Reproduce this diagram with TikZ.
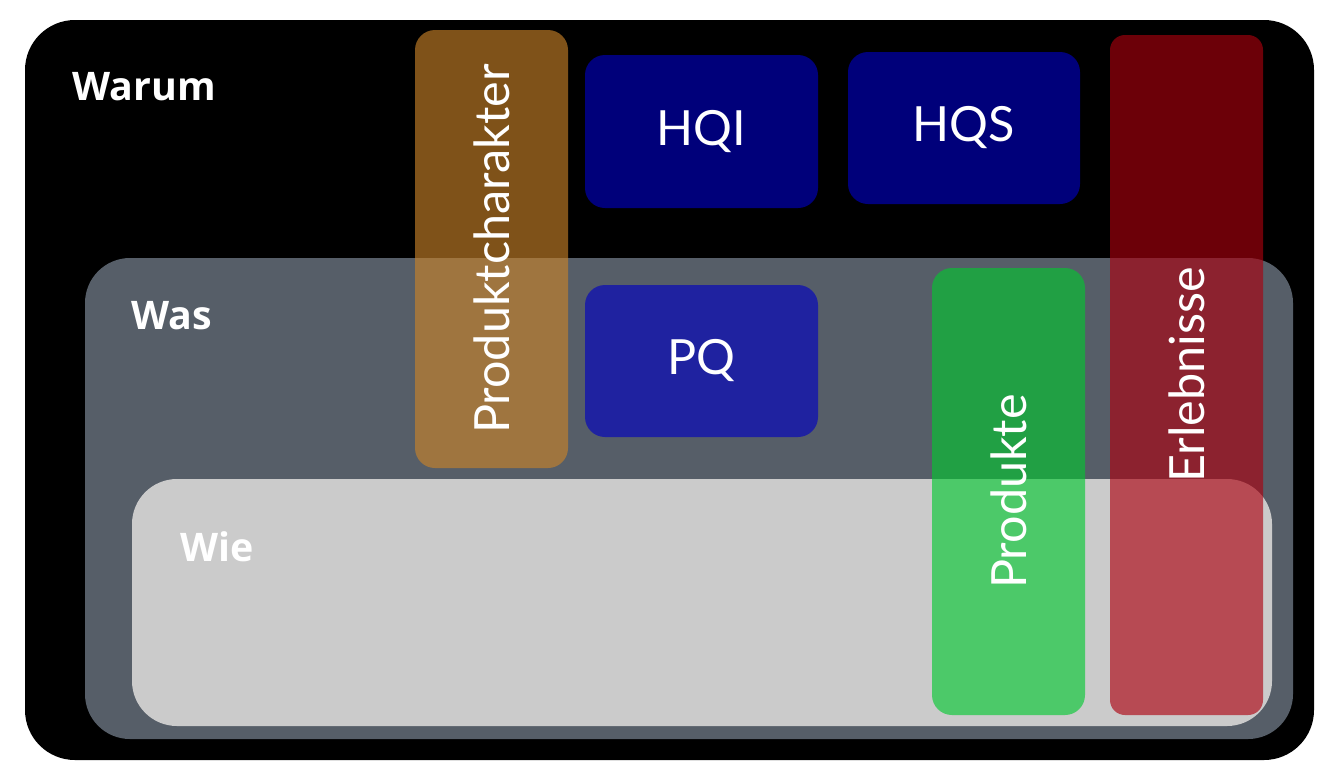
\documentclass[tikz,border=0pt]{standalone}
\usepackage{fontspec}
\setmainfont{Lato}
\newfontfamily\headfont{Open Sans}
\definecolor{wasgray}{RGB}{86,94,104}
\definecolor{wiegray}{RGB}{203,203,203}
\definecolor{charbrown}{RGB}{202,131,40}
\definecolor{hqblue}{RGB}{0,0,194}
\definecolor{prodgreen}{RGB}{3,200,48}
\definecolor{erlred}{RGB}{172,0,14}

\begin{document}
\begin{tikzpicture}[
  layer/.style={rounded corners=4.5mm, inner sep=0pt},
  head/.style={font=\headfont\bfseries\fontsize{11.2}{13}\selectfont, text=white},
  tag/.style={rounded corners=2mm, inner sep=0pt, fill opacity=0.63, text opacity=1,
    text=white, font=\fontsize{13.8}{15}\selectfont},
  upright/.style={tag, rotate=90},
]
\useasboundingbox[fill=white] (0,0) rectangle (13.34,7.78);

% === LAYERS ===
\node[layer, rounded corners=5mm, fill=black, minimum width=12.89cm, minimum height=7.40cm] (warum) at (6.695,3.88) {};
\node[layer, fill=wasgray, minimum width=12.08cm, minimum height=4.81cm] (was) at (6.89,2.795) {};
\node[layer, fill=wiegray, minimum width=11.40cm, minimum height=2.47cm] (wie) at (7.02,1.755) {};

\node[head] (warumlbl) at (1.44,6.91) {Warum};
\node[head] (waslbl) at (1.72,4.62) {Was};
\node[head] (wielbl) at (2.17,2.31) {Wie};

% === TAGS ===
\node[upright, fill=charbrown, minimum width=4.38cm, minimum height=1.53cm] (charakter) at (4.915,5.29) {Produktcharakter};
\node[tag, fill=hqblue, minimum width=2.33cm, minimum height=1.53cm] (hqi) at (7.015,6.465) {HQI};
\node[tag, fill=hqblue, minimum width=2.32cm, minimum height=1.52cm] (hqs) at (9.64,6.50) {HQS};
\node[tag, fill=hqblue, minimum width=2.33cm, minimum height=1.52cm] (pq) at (7.015,4.17) {PQ};
\node[upright, fill=prodgreen, minimum width=4.47cm, minimum height=1.53cm] (produkte) at (10.085,2.865) {Produkte};
\node[upright, rounded corners=1.5mm, fill=erlred, minimum width=6.80cm, minimum height=1.53cm] (erlebnisse) at (11.865,4.03) {Erlebnisse};
\end{tikzpicture}
\end{document}
